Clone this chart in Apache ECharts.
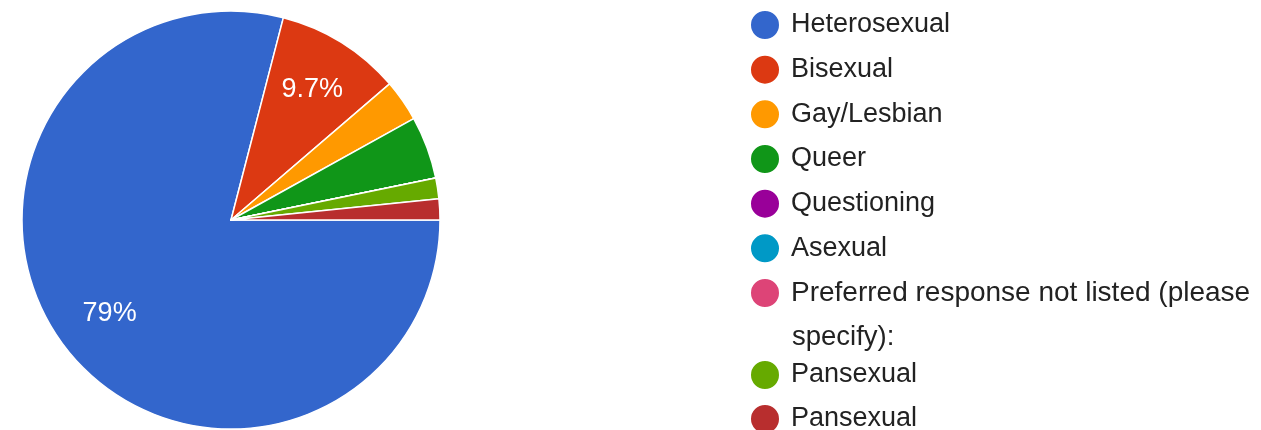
<!DOCTYPE html>
<html>
<head>
<meta charset="utf-8">
<script src="https://cdn.jsdelivr.net/npm/echarts@6/dist/echarts.min.js"></script>
<style>
  html, body { margin: 0; padding: 0; background: #fff; }
  #chart { width: 1261px; height: 430px; }
</style>
</head>
<body>
<div id="chart"></div>
<script>
// Categories (response options) in drawing order
const categories = [
  'Heterosexual',
  'Bisexual',
  'Gay/Lesbian',
  'Queer',
  'Questioning',
  'Asexual',
  'Preferred response not listed (please specify):',
  'Pansexual',
  'Pansexual '
];
// Response counts (total 62)
const counts = [49, 6, 2, 3, 0, 0, 0, 1, 1];
// Google-style palette
const colors = ['#3366cc', '#dc3912', '#ff9900', '#109618', '#990099', '#0099c6', '#dd4477', '#66aa00', '#b82e2e'];

const FONT = 'Liberation Sans, Arial, sans-serif';
const TEXT_COLOR = '#222';
const FS = 27;

const pieData = categories.map((name, i) => ({ name: name, value: counts[i] }));

const chart = echarts.init(document.getElementById('chart'), null, { renderer: 'canvas' });

const legendTextStyle = { fontSize: FS, fontFamily: FONT, color: TEXT_COLOR, lineHeight: 38, padding: [6, 0, 0, 0] };

const legendCommon = {
  orient: 'vertical',
  left: 749,
  padding: 0,
  icon: 'circle',
  itemWidth: 42,
  itemHeight: 30,
  itemGap: 0.67,
  selectedMode: false,
  textStyle: legendTextStyle
};

chart.setOption({
  animation: false,
  color: colors,
  legend: [
    Object.assign({}, legendCommon, {
      top: 3,
      height: 400,
      data: categories.slice(0, 6).concat([{
        name: categories[6],
        textStyle: Object.assign({}, legendTextStyle, { fontSize: 28 })
      }]),
      formatter: function (name) {
        return name === categories[6] ? 'Preferred response not listed (please' : name;
      }
    }),
    Object.assign({}, legendCommon, {
      top: 353,
      height: 120,
      itemGap: 0,
      data: categories.slice(7)
    })
  ],
  graphic: [{
    type: 'text',
    left: 792,
    top: 337 - 22,
    silent: true,
    style: {
      text: 'specify):',
      fontSize: 27.5,
      fontFamily: FONT,
      fill: TEXT_COLOR,
      lineHeight: 44
    }
  }],
  series: [
    {
      type: 'pie',
      center: [231, 220],
      radius: [0, 209],
      startAngle: 0,
      clockwise: true,
      silent: true,
      stillShowZeroSum: true,
      data: pieData,
      label: { show: false },
      labelLine: { show: false },
      itemStyle: { borderColor: '#ffffff', borderWidth: 1.5 },
      emphasis: { disabled: true }
    },
    {
      type: 'pie',
      center: [231, 220],
      radius: [92, 209],
      startAngle: 0,
      clockwise: true,
      silent: true,
      avoidLabelOverlap: false,
      data: pieData,
      itemStyle: { color: 'rgba(0,0,0,0)', borderWidth: 0 },
      labelLine: { show: false },
      emphasis: { disabled: true },
      label: {
        show: true,
        position: 'inside',
        color: '#ffffff',
        fontSize: FS,
        fontFamily: FONT,
        formatter: function (p) {
          if (p.percent < 5) return '';
          return Number(p.percent.toPrecision(2)) + '%';
        }
      }
    }
  ]
});
</script>
</body>
</html>
